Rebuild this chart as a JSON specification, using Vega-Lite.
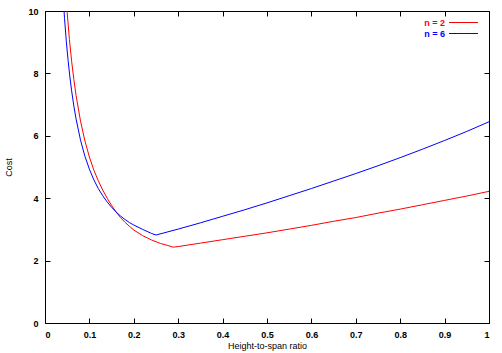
{
  "$schema": "https://vega.github.io/schema/vega-lite/v6.json",
  "width": 444,
  "height": 312,
  "autosize": {"type": "none"},
  "padding": {"left": 45, "top": 11, "right": 13, "bottom": 30},
  "background": "white",
  "config": {
    "view": {"stroke": "black", "strokeWidth": 1},
    "font": "Liberation Sans",
    "axis": {
      "grid": false,
      "domain": false,
      "tickColor": "black",
      "tickWidth": 1,
      "labelColor": "black",
      "labelFont": "Liberation Sans",
      "labelFontWeight": "bold",
      "labelFontSize": 9,
      "titleFont": "Liberation Sans",
      "titleFontWeight": "normal",
      "titleFontSize": 9,
      "titleColor": "black"
    }
  },
  "data": {
    "values": [
      {"series": "n = 2", "h": 0.044, "cost": 11.2},
      {"series": "n = 2", "h": 0.046, "cost": 10.74},
      {"series": "n = 2", "h": 0.05, "cost": 9.94},
      {"series": "n = 2", "h": 0.055, "cost": 9.09},
      {"series": "n = 2", "h": 0.06, "cost": 8.39},
      {"series": "n = 2", "h": 0.065, "cost": 7.8},
      {"series": "n = 2", "h": 0.07, "cost": 7.29},
      {"series": "n = 2", "h": 0.08, "cost": 6.47},
      {"series": "n = 2", "h": 0.09, "cost": 5.83},
      {"series": "n = 2", "h": 0.1, "cost": 5.32},
      {"series": "n = 2", "h": 0.11, "cost": 4.9},
      {"series": "n = 2", "h": 0.12, "cost": 4.56},
      {"series": "n = 2", "h": 0.13, "cost": 4.26},
      {"series": "n = 2", "h": 0.14, "cost": 4.0},
      {"series": "n = 2", "h": 0.15, "cost": 3.77},
      {"series": "n = 2", "h": 0.16, "cost": 3.56},
      {"series": "n = 2", "h": 0.17, "cost": 3.38},
      {"series": "n = 2", "h": 0.18, "cost": 3.23},
      {"series": "n = 2", "h": 0.19, "cost": 3.1},
      {"series": "n = 2", "h": 0.2, "cost": 2.98},
      {"series": "n = 2", "h": 0.22, "cost": 2.8},
      {"series": "n = 2", "h": 0.24, "cost": 2.66},
      {"series": "n = 2", "h": 0.26, "cost": 2.55},
      {"series": "n = 2", "h": 0.275, "cost": 2.49},
      {"series": "n = 2", "h": 0.289, "cost": 2.43},
      {"series": "n = 2", "h": 0.3, "cost": 2.45},
      {"series": "n = 2", "h": 0.35, "cost": 2.56},
      {"series": "n = 2", "h": 0.4, "cost": 2.67},
      {"series": "n = 2", "h": 0.45, "cost": 2.78},
      {"series": "n = 2", "h": 0.5, "cost": 2.89},
      {"series": "n = 2", "h": 0.55, "cost": 3.01},
      {"series": "n = 2", "h": 0.6, "cost": 3.13},
      {"series": "n = 2", "h": 0.65, "cost": 3.26},
      {"series": "n = 2", "h": 0.7, "cost": 3.38},
      {"series": "n = 2", "h": 0.75, "cost": 3.52},
      {"series": "n = 2", "h": 0.8, "cost": 3.65},
      {"series": "n = 2", "h": 0.85, "cost": 3.79},
      {"series": "n = 2", "h": 0.9, "cost": 3.93},
      {"series": "n = 2", "h": 0.95, "cost": 4.07},
      {"series": "n = 2", "h": 1.0, "cost": 4.22},
      {"series": "n = 6", "h": 0.038, "cost": 11.13},
      {"series": "n = 6", "h": 0.04, "cost": 10.63},
      {"series": "n = 6", "h": 0.044, "cost": 9.76},
      {"series": "n = 6", "h": 0.048, "cost": 9.03},
      {"series": "n = 6", "h": 0.052, "cost": 8.42},
      {"series": "n = 6", "h": 0.056, "cost": 7.89},
      {"series": "n = 6", "h": 0.06, "cost": 7.44},
      {"series": "n = 6", "h": 0.065, "cost": 6.95},
      {"series": "n = 6", "h": 0.07, "cost": 6.54},
      {"series": "n = 6", "h": 0.08, "cost": 5.86},
      {"series": "n = 6", "h": 0.09, "cost": 5.34},
      {"series": "n = 6", "h": 0.1, "cost": 4.93},
      {"series": "n = 6", "h": 0.11, "cost": 4.59},
      {"series": "n = 6", "h": 0.12, "cost": 4.31},
      {"series": "n = 6", "h": 0.13, "cost": 4.08},
      {"series": "n = 6", "h": 0.14, "cost": 3.88},
      {"series": "n = 6", "h": 0.15, "cost": 3.71},
      {"series": "n = 6", "h": 0.16, "cost": 3.56},
      {"series": "n = 6", "h": 0.17, "cost": 3.43},
      {"series": "n = 6", "h": 0.18, "cost": 3.32},
      {"series": "n = 6", "h": 0.19, "cost": 3.22},
      {"series": "n = 6", "h": 0.2, "cost": 3.14},
      {"series": "n = 6", "h": 0.22, "cost": 3.0},
      {"series": "n = 6", "h": 0.24, "cost": 2.87},
      {"series": "n = 6", "h": 0.25, "cost": 2.82},
      {"series": "n = 6", "h": 0.3, "cost": 3.01},
      {"series": "n = 6", "h": 0.35, "cost": 3.21},
      {"series": "n = 6", "h": 0.4, "cost": 3.42},
      {"series": "n = 6", "h": 0.45, "cost": 3.63},
      {"series": "n = 6", "h": 0.5, "cost": 3.85},
      {"series": "n = 6", "h": 0.55, "cost": 4.08},
      {"series": "n = 6", "h": 0.6, "cost": 4.31},
      {"series": "n = 6", "h": 0.65, "cost": 4.55},
      {"series": "n = 6", "h": 0.7, "cost": 4.79},
      {"series": "n = 6", "h": 0.75, "cost": 5.04},
      {"series": "n = 6", "h": 0.8, "cost": 5.3},
      {"series": "n = 6", "h": 0.85, "cost": 5.57},
      {"series": "n = 6", "h": 0.9, "cost": 5.85},
      {"series": "n = 6", "h": 0.95, "cost": 6.14},
      {"series": "n = 6", "h": 1.0, "cost": 6.45}
    ]
  },
  "layer": [
    {
      "mark": {"type": "line", "clip": true, "strokeWidth": 1},
      "encoding": {
        "x": {
          "field": "h", "type": "quantitative",
          "scale": {"domain": [0, 1], "nice": false},
          "axis": {"orient": "bottom", "title": "Height-to-span ratio", "values": [0,0.1,0.2,0.3,0.4,0.5,0.6,0.7,0.8,0.9,1], "format": "~g", "tickSize": -5, "labelPadding": 12, "titlePadding": 2}
        },
        "y": {
          "field": "cost", "type": "quantitative",
          "scale": {"domain": [0, 10], "nice": false, "zero": false},
          "axis": {"orient": "left", "title": "Cost", "values": [0,2,4,6,8,10], "tickSize": -5, "labelPadding": 12, "titlePadding": 14}
        },
        "color": {
          "field": "series", "type": "nominal",
          "scale": {"domain": ["n = 2", "n = 6"], "range": ["#ff0000", "#0000ff"]},
          "legend": {
            "title": null,
            "orient": "none",
            "legendX": 413,
            "legendY": 6,
            "padding": 0,
            "symbolType": "M-2.9,0L2.9,0",
            "symbolSize": 100,
            "symbolStrokeWidth": 1,
            "labelAlign": "right",
            "labelOffset": -24,
            "labelFont": "Liberation Sans",
            "labelFontWeight": "bold",
            "labelFontSize": 9,
            "rowPadding": -2,
            "encode": {"labels": {"update": {"fill": {"scale": "color", "field": "value"}}}}
          }
        }
      }
    },
    {
      "mark": {"type": "line", "clip": true, "strokeOpacity": 0},
      "encoding": {
        "x": {
          "field": "h", "type": "quantitative",
          "axis": {"orient": "top", "title": null, "labels": false, "values": [0,0.1,0.2,0.3,0.4,0.5,0.6,0.7,0.8,0.9,1], "tickSize": -5}
        },
        "y": {
          "field": "cost", "type": "quantitative",
          "axis": {"orient": "right", "title": null, "labels": false, "values": [0,2,4,6,8,10], "tickSize": -5}
        },
        "detail": {"field": "series"}
      }
    }
  ]
}
